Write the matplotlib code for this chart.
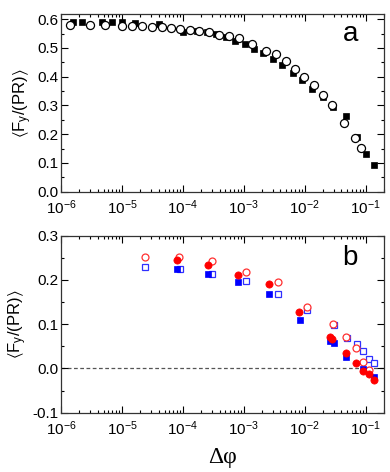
import numpy as np
import matplotlib
matplotlib.use("Agg")
import matplotlib.pyplot as plt
from matplotlib.ticker import LogLocator, MultipleLocator, NullFormatter

plt.rcParams["font.family"] = ["Liberation Sans", "DejaVu Sans"]
plt.rcParams["mathtext.fontset"] = "custom"
plt.rcParams["mathtext.rm"] = "Liberation Sans"
plt.rcParams["mathtext.it"] = "Liberation Sans:italic"
plt.rcParams["mathtext.default"] = "regular"

# ---- panel a: log10(delta phi), <Fy/(PR)> ----
a_sq_logx = [-5.803, -5.656, -5.328, -5.164, -5.0, -4.787, -4.393, -3.995, -3.766,
             -3.611, -3.448, -3.300, -3.148, -2.984, -2.831, -2.684, -2.520, -2.366,
             -2.192, -2.038, -1.874, -1.700, -1.536, -1.328, -1.148, -1.000, -0.869]
a_sq_y = [0.591, 0.591, 0.590, 0.590, 0.590, 0.588, 0.584, 0.557, 0.560,
          0.555, 0.548, 0.537, 0.525, 0.515, 0.496, 0.482, 0.461, 0.439,
          0.413, 0.387, 0.357, 0.331, 0.296, 0.262, 0.192, 0.131, 0.093]

a_ci_logx = [-5.852, -5.525, -5.279, -5.005, -4.831, -4.667, -4.513, -4.349, -4.197,
             -4.049, -3.885, -3.733, -3.569, -3.405, -3.241, -3.082, -2.864, -2.628,
             -2.464, -2.311, -2.164, -2.016, -1.852, -1.700, -1.546, -1.361, -1.169,
             -1.070]
a_ci_y = [0.581, 0.580, 0.579, 0.578, 0.577, 0.575, 0.574, 0.572, 0.569,
          0.565, 0.563, 0.560, 0.554, 0.546, 0.543, 0.534, 0.515, 0.490,
          0.479, 0.456, 0.426, 0.399, 0.372, 0.336, 0.300, 0.240, 0.188,
          0.151]

# ---- panel b ----
b_rf_logx = [-4.103, -3.595, -3.093, -2.590, -2.098, -1.579, -1.546, -1.318,
             -1.153, -1.049, -0.946, -0.869]
b_rf_y = [0.244, 0.233, 0.212, 0.190, 0.128, 0.072, 0.066, 0.036,
          0.012, -0.005, -0.012, -0.027]

b_bf_logx = [-4.103, -3.595, -3.093, -2.590, -2.082, -1.590, -1.525, -1.318,
             -1.049, -0.869]
b_bf_y = [0.225, 0.213, 0.195, 0.168, 0.109, 0.063, 0.057, 0.025,
          -0.001, -0.020]

b_ro_logx = [-4.628, -4.066, -3.520, -2.967, -2.443, -1.962, -1.536, -1.318,
             -1.153, -1.049, -0.946]
b_ro_y = [0.252, 0.252, 0.243, 0.217, 0.196, 0.138, 0.100, 0.072,
          0.046, 0.014, -0.004]

b_bo_logx = [-4.628, -4.050, -3.520, -2.967, -2.443, -1.962, -1.525, -1.310,
             -1.143, -1.040, -0.946, -0.869]
b_bo_y = [0.229, 0.225, 0.213, 0.197, 0.168, 0.132, 0.098, 0.068,
          0.055, 0.040, 0.022, 0.012]

xticks = [1e-6, 1e-5, 1e-4, 1e-3, 1e-2, 1e-1]
xticklabels = [r"$10^{-6}$", r"$10^{-5}$", r"$10^{-4}$", r"$10^{-3}$", r"$10^{-2}$", r"$10^{-1}$"]
ylabel = r"$\langle$F$_y$/(PR)$\rangle$"


def style_axes(ax, ylim, yticks):
    ax.set_xscale("log")
    ax.set_xlim(1e-6, 0.2)
    ax.set_ylim(*ylim)
    ax.set_xticks(xticks)
    ax.set_xticklabels(xticklabels)
    ax.xaxis.set_minor_locator(LogLocator(base=10, subs=np.arange(2, 10), numticks=20))
    ax.xaxis.set_minor_formatter(NullFormatter())
    ax.set_yticks(yticks)
    ax.set_yticklabels([f"{v:.1f}" for v in yticks])
    ax.yaxis.set_minor_locator(MultipleLocator(0.05))
    ax.tick_params(which="both", direction="in", top=True, right=True, labelsize=11, width=0.8)
    ax.tick_params(which="major", length=5)
    ax.tick_params(which="minor", length=2.5)
    ax.tick_params(axis="x", which="major", pad=5)
    ax.tick_params(axis="y", which="major", pad=2)
    for s in ax.spines.values():
        s.set_linewidth(0.9)
        s.set_color("#333333")
    ax.set_ylabel(ylabel, fontsize=12, labelpad=2)


fig = plt.figure(figsize=(3.9, 4.72), dpi=100)
ax1 = fig.add_axes([0.1564, 0.5938, 0.8282, 0.3765])
ax2 = fig.add_axes([0.1564, 0.1256, 0.8282, 0.3750])

# panel a
ax1.plot(10 ** np.array(a_sq_logx), a_sq_y, ls="none", marker="s", ms=5,
         mfc="black", mec="black", mew=0.5)
ax1.plot(10 ** np.array(a_ci_logx), a_ci_y, ls="none", marker="o", ms=5.8,
         mfc="white", mec="black", mew=0.9)
style_axes(ax1, (0, 0.618), [0.0, 0.1, 0.2, 0.3, 0.4, 0.5, 0.6])
ax1.text(0.895, 0.89, "a", transform=ax1.transAxes, fontsize=20, ha="center", va="center")

# panel b
ax2.axhline(0, color="#555555", ls=(0, (3, 2)), lw=0.9, zorder=1)
ax2.plot(10 ** np.array(b_bo_logx), b_bo_y, ls="none", marker="s", ms=4.5,
         mfc="white", mec="#3030ff", mew=0.9)
ax2.plot(10 ** np.array(b_ro_logx), b_ro_y, ls="none", marker="o", ms=5,
         mfc="white", mec="#ff3030", mew=0.9)
ax2.plot(10 ** np.array(b_bf_logx), b_bf_y, ls="none", marker="s", ms=4.8,
         mfc="#0000ff", mec="#0000ff", mew=0.5)
ax2.plot(10 ** np.array(b_rf_logx), b_rf_y, ls="none", marker="o", ms=5.2,
         mfc="#ff0000", mec="#ff0000", mew=0.5)
style_axes(ax2, (-0.1, 0.3), [-0.1, 0.0, 0.1, 0.2, 0.3])
ax2.text(0.895, 0.875, "b", transform=ax2.transAxes, fontsize=20, ha="center", va="center")
ax2.set_xlabel("\u0394\u03c6", fontsize=17, family=["Liberation Serif", "DejaVu Serif"], labelpad=6)

fig.savefig("out.png", dpi=100)
